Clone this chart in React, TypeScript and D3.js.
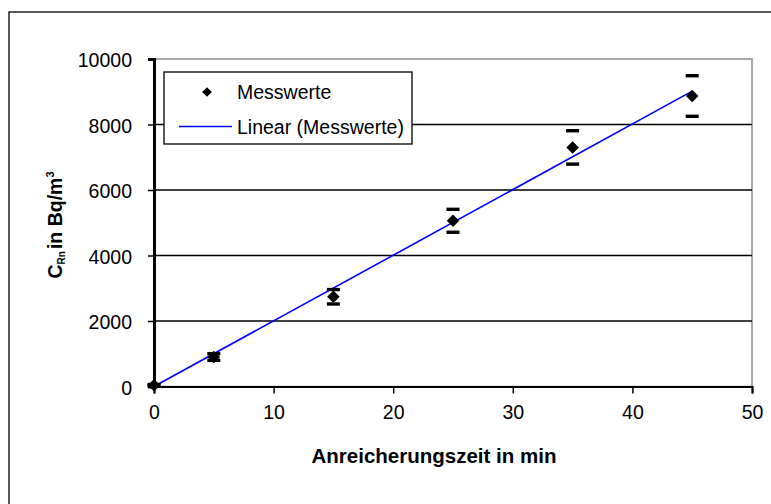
import React, { useEffect, useRef } from 'react';
import * as d3 from 'd3';

// Anreicherungszeit (min) and measured radon concentration (Bq/m3)
const times = [0, 5, 15, 25, 35, 45];
const values = [40, 900, 2740, 5060, 7300, 8870];
const errors = [20, 100, 220, 350, 510, 620];

const xTicks = [0, 10, 20, 30, 40, 50];
const yTicks = [0, 2000, 4000, 6000, 8000, 10000];

const legendLabels = ['Messwerte', 'Linear (Messwerte)'];

const FONT = '"Liberation Sans", Arial, sans-serif';

const App = () => {
  const ref = useRef<SVGSVGElement>(null);

  const width = 771;
  const height = 504;
  const plot = { left: 154, right: 752, top: 59, bottom: 386.5 };

  useEffect(() => {
    drawChart();
  }, []);

  function drawChart() {
    const svg = d3.select(ref.current);
    svg.selectAll('*').remove();

    const x = d3.scaleLinear().domain([0, 50]).range([plot.left, plot.right]);
    const y = d3.scaleLinear().domain([0, 10000]).range([plot.bottom, plot.top]);

    // outer chart frame
    svg.append('rect')
      .attr('x', 9).attr('y', 12)
      .attr('width', 800).attr('height', 600)
      .attr('fill', 'white')
      .attr('stroke', '#000')
      .attr('stroke-width', 1.3);

    // plot area border (top / right grey)
    svg.append('rect')
      .attr('x', plot.left).attr('y', plot.top)
      .attr('width', plot.right - plot.left)
      .attr('height', plot.bottom - plot.top)
      .attr('fill', 'white')
      .attr('stroke', '#8c8c8c')
      .attr('stroke-width', 1.5);

    // gridlines
    svg.append('g')
      .selectAll('line')
      .data(yTicks.filter((t) => t > 0 && t < 10000))
      .enter()
      .append('line')
      .attr('x1', plot.left).attr('x2', plot.right)
      .attr('y1', (d) => y(d)).attr('y2', (d) => y(d))
      .attr('stroke', '#000')
      .attr('stroke-width', 1.6);

    // x axis
    const xAxis = svg.append('g')
      .attr('transform', `translate(0, ${plot.bottom})`)
      .call(d3.axisBottom(x).tickValues(xTicks).tickSize(7).tickPadding(12).tickFormat(d3.format('d')));
    xAxis.select('.domain').attr('stroke', '#000').attr('stroke-width', 2);
    xAxis.selectAll('.tick line').attr('stroke', '#000').attr('stroke-width', 1.5);
    xAxis.selectAll('.tick text')
      .attr('font-family', FONT)
      .attr('font-size', 19.5)
      .attr('fill', '#000');

    // y axis
    const yAxis = svg.append('g')
      .attr('transform', `translate(${plot.left}, 0)`)
      .call(d3.axisLeft(y).tickValues(yTicks).tickSize(6).tickPadding(16).tickFormat(d3.format('d')));
    yAxis.select('.domain').attr('stroke', '#000').attr('stroke-width', 3);
    yAxis.selectAll('.tick line').attr('stroke', '#000').attr('stroke-width', 1.5);
    yAxis.selectAll('.tick text')
      .attr('font-family', FONT)
      .attr('font-size', 19.5)
      .attr('dy', '0.4em')
      .attr('fill', '#000');

    // linear trend through origin (Excel trendline, intercept = 0)
    const sxy = d3.sum(times, (t, i) => t * values[i]);
    const sxx = d3.sum(times, (t) => t * t);
    const slope = sxy / sxx;
    const tMin = d3.min(times) as number;
    const tMax = d3.max(times) as number;

    svg.append('line')
      .attr('x1', x(tMin)).attr('y1', y(slope * tMin))
      .attr('x2', x(tMax)).attr('y2', y(slope * tMax))
      .attr('stroke', '#0000ff')
      .attr('stroke-width', 1.6);

    const diamond = d3.symbol().type(d3.symbolDiamond2).size(100);

    // error bar caps
    const caps = svg.append('g');
    times.forEach((t, i) => {
      [values[i] + errors[i], values[i] - errors[i]].forEach((v) => {
        caps.append('rect')
          .attr('x', x(t) - 6.5)
          .attr('y', y(v) - 1.7)
          .attr('width', 13)
          .attr('height', 3.4)
          .attr('fill', '#000');
      });
    });

    // markers
    svg.append('g')
      .selectAll('path')
      .data(times)
      .enter()
      .append('path')
      .attr('d', diamond)
      .attr('transform', (d, i) => `translate(${x(d)}, ${y(values[i])})`)
      .attr('fill', '#000');

    // legend
    const legend = svg.append('g');
    legend.append('rect')
      .attr('x', 164).attr('y', 72)
      .attr('width', 248).attr('height', 72)
      .attr('fill', 'white')
      .attr('stroke', '#000')
      .attr('stroke-width', 1.3);
    legend.append('path')
      .attr('d', d3.symbol().type(d3.symbolDiamond2).size(60))
      .attr('transform', 'translate(207, 92)')
      .attr('fill', '#000');
    legend.append('line')
      .attr('x1', 179).attr('x2', 232)
      .attr('y1', 126.5).attr('y2', 126.5)
      .attr('stroke', '#0000ff')
      .attr('stroke-width', 1.6);
    legend.selectAll('text')
      .data(legendLabels)
      .enter()
      .append('text')
      .attr('x', 237)
      .attr('y', (_, i) => (i === 0 ? 98.5 : 133.5))
      .attr('font-family', FONT)
      .attr('font-size', 19.5)
      .text((d) => d);

    // axis titles
    svg.append('text')
      .attr('x', 434)
      .attr('y', 463)
      .attr('text-anchor', 'middle')
      .attr('font-family', FONT)
      .attr('font-size', 20.5)
      .attr('font-weight', 'bold')
      .text('Anreicherungszeit in min');

    const yTitle = svg.append('text')
      .attr('transform', 'translate(62, 225) rotate(-90)')
      .attr('text-anchor', 'middle')
      .attr('font-family', FONT)
      .attr('font-size', 19.5)
      .attr('font-weight', 'bold');
    yTitle.append('tspan').text('C');
    yTitle.append('tspan').attr('font-size', 10).attr('dy', 3).text('Rn');
    yTitle.append('tspan').attr('dy', -3).attr('dx', 2).text('in Bq/m');
    yTitle.append('tspan').attr('font-size', 11).attr('dy', -8).text('3');
  }

  return (
    <svg
      ref={ref}
      width={width}
      height={height}
      style={{ position: 'absolute', left: 0, top: 0, background: 'white' }}
    />
  );
};

export default App;
